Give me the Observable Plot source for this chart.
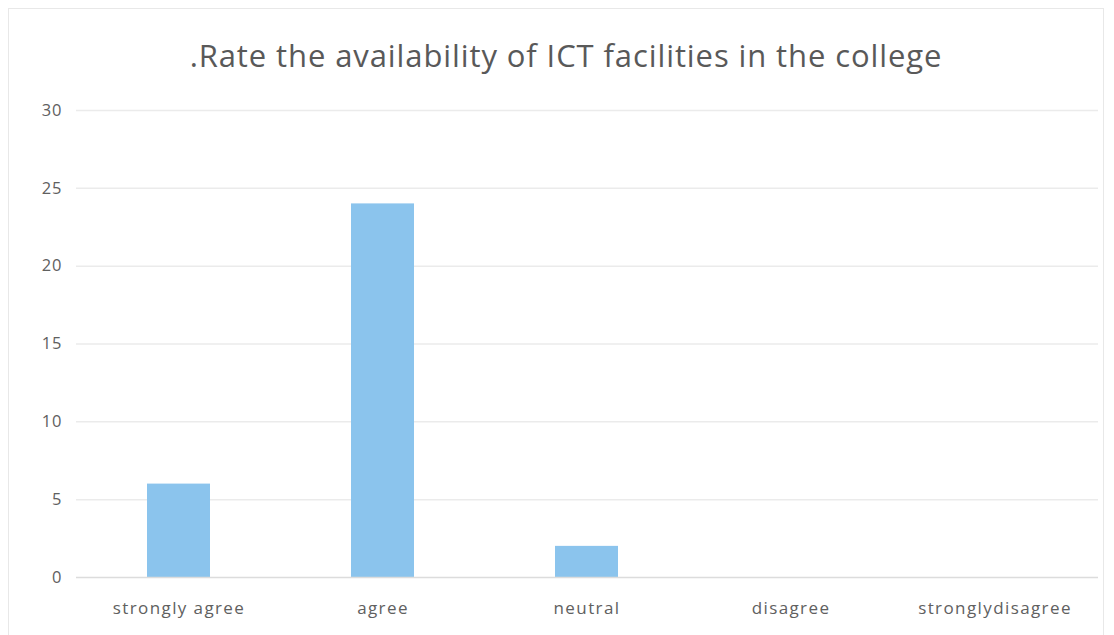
<!DOCTYPE html>
<html>
<head>
<meta charset="utf-8">
<script src="https://cdn.jsdelivr.net/npm/d3@7"></script>
<script src="https://cdn.jsdelivr.net/npm/@observablehq/plot@0.6"></script>
<style>
  html, body { margin: 0; padding: 0; background: #fff; }
  #wrap { position: relative; width: 1114px; height: 635px; overflow: hidden; }
  #frame { position: absolute; left: 8px; top: 8px; width: 1096px; height: 640px; border: 1px solid #e8e8e8; box-sizing: border-box; pointer-events: none; }
  #title { height: 95px; box-sizing: border-box; padding-top: 34px; text-align: center; font-family: "Open Sans", sans-serif; font-size: 31px; line-height: 1.362; color: #595959; letter-spacing: 0.9px; padding-left: 18px; white-space: nowrap; }
  #chart svg text { letter-spacing: 1px; }
  #chart svg g[aria-label="x-axis tick label"] text { letter-spacing: 1.4px; }
</style>
</head>
<body>
<div id="wrap">
  <div id="frame"></div>
  <div id="title">.Rate the availability of ICT facilities in the college</div>
  <div id="chart"></div>
</div>
<script>
const categories = ["strongly agree", "agree", "neutral", "disagree", "stronglydisagree"];
const counts = [6, 24, 2, 0, 0];
const yTicks = [0, 5, 10, 15, 20, 25, 30];

const data = categories.map((c, i) => ({category: c, count: counts[i]}));

const chart = Plot.plot({
  width: 1114,
  height: 540,
  marginLeft: 76,
  marginRight: 16,
  marginTop: 15,
  marginBottom: 58,
  style: {fontFamily: "'Open Sans', sans-serif", fontSize: "17px", color: "#606060", background: "transparent"},
  x: {domain: categories, paddingInner: 0.69, paddingOuter: 0.345, label: null, tickSize: 0, tickPadding: 22},
  y: {domain: [0, 30], ticks: yTicks, label: null, tickSize: 0, tickPadding: 14},
  marks: [
    Plot.ruleY(yTicks.filter(d => d > 0), {stroke: "#ebebeb", strokeWidth: 1.5}),
    Plot.barY(data, {x: "category", y: "count", fill: "#8bc4ed"}),
    Plot.ruleY([0], {stroke: "#dcdcdc", strokeWidth: 1.5}),
    Plot.axisX({tickSize: 0, tickPadding: 24, fontSize: 17, label: null}),
    Plot.axisY({ticks: yTicks, tickSize: 0, tickPadding: 14, fontSize: 16.5, label: null})
  ]
});
document.getElementById("chart").appendChild(chart);
</script>
</body>
</html>
